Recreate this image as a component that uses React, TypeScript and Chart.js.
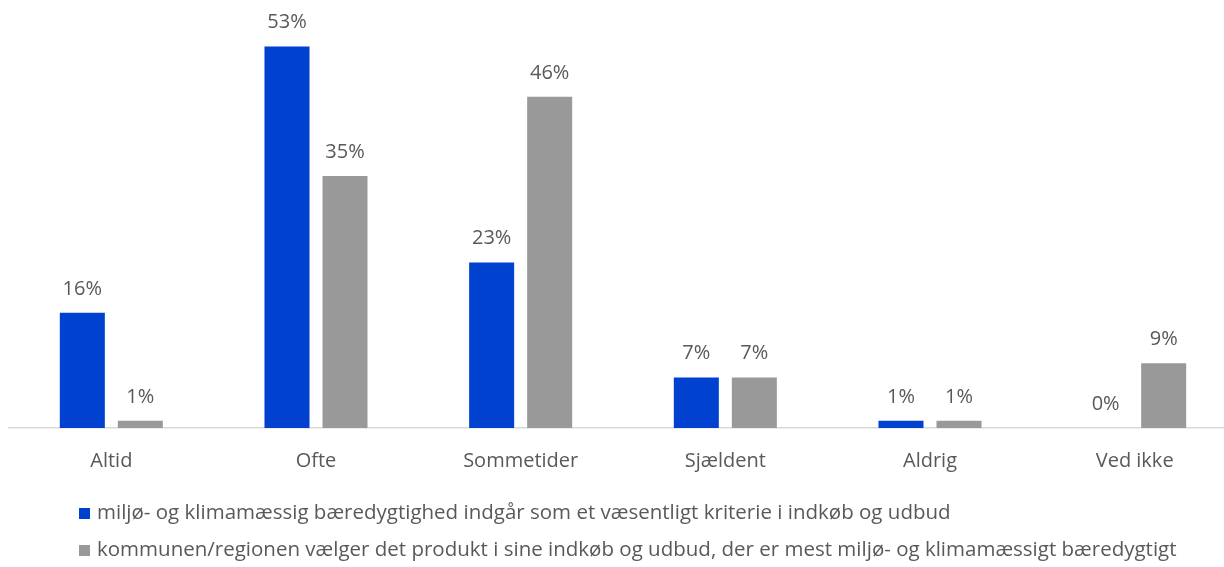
import React, { useEffect, useRef } from "react";
import { Chart, registerables } from "chart.js";

Chart.register(...registerables);

const categories = ["Altid", "Ofte", "Sommetider", "Sjældent", "Aldrig", "Ved ikke"];
const seriesNames = [
  "miljø- og klimamæssig bæredygtighed indgår som et væsentligt kriterie i indkøb og udbud",
  "kommunen/regionen vælger det produkt i sine indkøb og udbud, der er mest miljø- og klimamæssigt bæredygtigt",
];
const seriesA = [16, 53, 23, 7, 1, 0];
const seriesB = [1, 35, 46, 7, 1, 9];
const yMax = 55;

const BLUE = "#0041CF";
const GREY = "#999999";
const TEXT = "#595959";
const FONT = "'Open Sans', 'Noto Sans', sans-serif";

const valueLabels = {
  id: "valueLabels",
  afterDatasetsDraw(chart: any) {
    const ctx = chart.ctx;
    ctx.save();
    ctx.fillStyle = TEXT;
    ctx.font = `20px ${FONT}`;
    ctx.textAlign = "center";
    ctx.textBaseline = "middle";
    chart.data.datasets.forEach((ds: any, di: number) => {
      const meta = chart.getDatasetMeta(di);
      meta.data.forEach((el: any, i: number) => {
        ctx.fillText(`${ds.data[i]}%`, el.x, el.y - 24);
      });
    });
    ctx.restore();
  },
};

const bottomLegend = {
  id: "bottomLegend",
  afterDraw(chart: any) {
    const ctx = chart.ctx;
    ctx.save();
    ctx.font = `20.5px ${FONT}`;
    ctx.textBaseline = "middle";
    ctx.textAlign = "left";
    const rows = [513, 550];
    chart.data.datasets.forEach((ds: any, i: number) => {
      const y = rows[i];
      ctx.fillStyle = ds.backgroundColor;
      ctx.fillRect(79, y - 5, 11, 11);
      ctx.fillStyle = TEXT;
      ctx.fillText(ds.label, 97, y);
    });
    ctx.restore();
  },
};

export default function App() {
  const ref = useRef<HTMLCanvasElement | null>(null);

  useEffect(() => {
    if (!ref.current) return;
    const chart = new Chart(ref.current, {
      type: "bar",
      data: {
        labels: categories,
        datasets: [
          { label: seriesNames[0], data: seriesA, backgroundColor: BLUE },
          { label: seriesNames[1], data: seriesB, backgroundColor: GREY },
        ],
      },
      options: {
        animation: false,
        responsive: false,
        devicePixelRatio: 1,
        layout: { padding: { top: 32, left: 9, right: 0, bottom: 0 } },
        datasets: {
          bar: { categoryPercentage: 0.567, barPercentage: 0.776 },
        },
        plugins: {
          legend: { display: false },
          tooltip: { enabled: false },
        },
        scales: {
          x: {
            grid: { display: false, drawTicks: false },
            border: { display: true, color: "#D9D9D9", width: 1.5 },
            ticks: {
              color: TEXT,
              font: { family: FONT, size: 20 },
              padding: 21,
            },
            afterFit(scale: any) {
              scale.height = 139;
            },
          },
          y: {
            display: false,
            min: 0,
            max: yMax,
          },
        },
      },
      plugins: [valueLabels, bottomLegend],
    });
    return () => chart.destroy();
  }, []);

  return (
    <div
      style={{
        position: "fixed",
        left: 0,
        top: 0,
        width: 1224,
        height: 567,
        overflow: "hidden",
        background: "#fff",
      }}
    >
      <canvas ref={ref} width={1237} height={567} style={{ display: "block" }} />
    </div>
  );
}
